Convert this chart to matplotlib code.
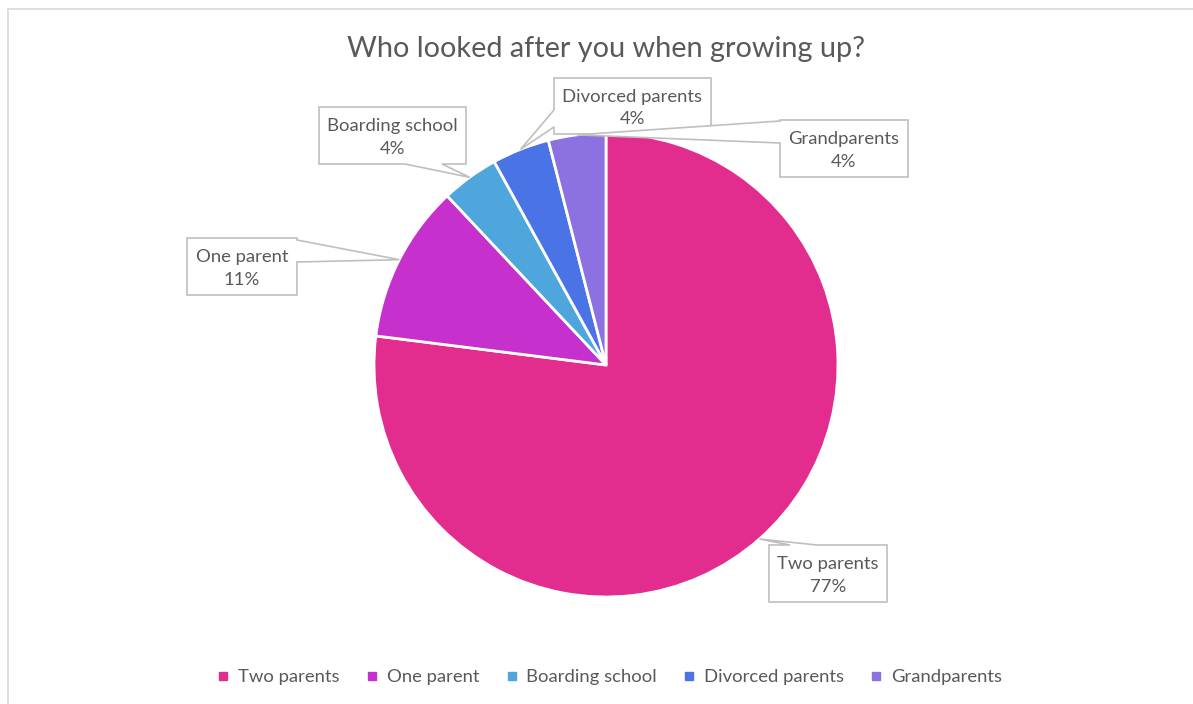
import matplotlib
matplotlib.use("Agg")
import matplotlib.pyplot as plt
from matplotlib.patches import Polygon
from matplotlib.lines import Line2D
import numpy as np

# Survey data
categories = ["Two parents", "One parent", "Boarding school", "Divorced parents", "Grandparents"]
shares = [77, 11, 4, 4, 4]
colors = ["#E22D8F", "#C630CD", "#4EA6DC", "#4A74E5", "#8C72E0"]
title = "Who looked after you when growing up?"

TEXT = "#595959"
FONT = ["Lato", "DejaVu Sans"]
W, H = 1193, 704

fig = plt.figure(figsize=(W / 100, H / 100), dpi=100)
ax = fig.add_axes([0, 0, 1, 1])

# Work in pixel units (y measured upward)
def py(y):
    return H - y

cx, cy, R = 606, py(365), 232

ax.pie(shares, colors=colors, startangle=90, counterclock=False,
       radius=R, center=(cx, cy),
       wedgeprops=dict(edgecolor="white", linewidth=2))
ax.set_xlim(0, W)
ax.set_ylim(0, H)
ax.set_aspect("auto")
ax.axis("off")

# Chart area frame
ax.plot([8, W], [py(9), py(9)], color="#d9d9d9", lw=1.2, zorder=0)
ax.plot([8, 8], [0, py(9)], color="#d9d9d9", lw=1.2, zorder=0)

ax.text(cx, py(49), title, ha="center", va="center", fontsize=20.8,
        color=TEXT, family=FONT)

# Callout boxes: rectangle (x0, y0, x1, y1) and the side carrying the pointer
callouts = [
    ((769, 545, 887, 602), "top", (790, 817)),
    ((187, 238, 297, 295), "right", (240, 262)),
    ((319, 107, 466, 164), "bottom", (405, 442)),
    ((554, 78, 711, 134), "left", (110, 127)),
    ((780, 120, 908, 177), "left", (121, 143)),
]

total = sum(shares)
cum = np.cumsum([0] + shares[:-1])
for i, (label, val) in enumerate(zip(categories, shares)):
    mid = (cum[i] + val / 2) / total * 2 * np.pi
    tip = (cx + R * np.sin(mid), cy + R * np.cos(mid))
    (x0, y0, x1, y1), side, (a, b) = callouts[i]
    TL, TR, BR, BL = (x0, py(y0)), (x1, py(y0)), (x1, py(y1)), (x0, py(y1))
    lo, hi = min(a, b), max(a, b)
    if side == "top":
        verts = [TL, (lo, py(y0)), tip, (hi, py(y0)), TR, BR, BL]
    elif side == "right":
        verts = [TL, TR, (x1, py(lo)), tip, (x1, py(hi)), BR, BL]
    elif side == "bottom":
        verts = [TL, TR, BR, (hi, py(y1)), tip, (lo, py(y1)), BL]
    else:
        verts = [TL, TR, BR, BL, (x0, py(hi)), tip, (x0, py(lo))]
    ax.add_patch(Polygon(verts, closed=True, facecolor="white",
                         edgecolor="#bfbfbf", lw=1.2, zorder=3 + i * 0.1))
    ax.text((x0 + x1) / 2, py((y0 + y1) / 2 + 2), f"{label}\n{val}%",
            ha="center", va="center", fontsize=13.3, color=TEXT,
            family=FONT, linespacing=1.5, zorder=4)

handles = [Line2D([], [], marker="s", linestyle="none", markersize=6,
                  markerfacecolor=c, markeredgecolor=c) for c in colors]
fig.legend(handles, categories, loc="center", ncol=len(categories),
           bbox_to_anchor=(610 / W, 1 - 677 / H), frameon=False,
           handlelength=0.6, handletextpad=0.5, columnspacing=1.45,
           prop=dict(family=FONT, size=13.3), labelcolor=TEXT)

fig.savefig("out.png", dpi=100, facecolor="white")
